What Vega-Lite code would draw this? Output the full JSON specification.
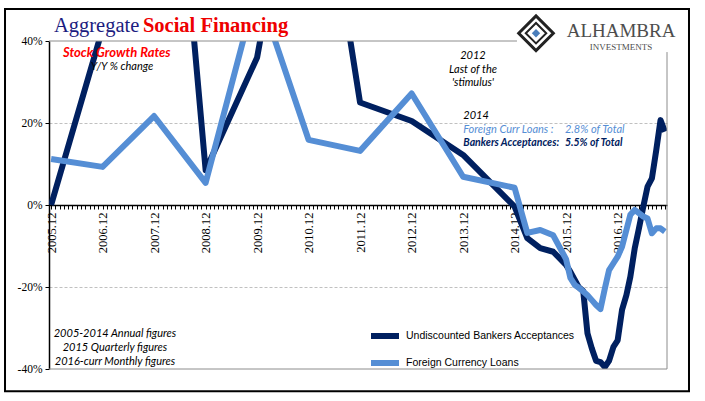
{
  "$schema": "https://vega.github.io/schema/vega-lite/v6.json",
  "width": 618,
  "height": 328,
  "autosize": {"type": "none"},
  "padding": {"left": 49, "top": 41, "right": 38, "bottom": 32},
  "background": "white",
  "config": {"view": {"stroke": null}},
  "layer": [
    {
      "data": {"values": [
        {"date": "2005-12-01", "acceptances": 0, "fxloans": 11.2},
        {"date": "2006-12-01", "acceptances": 43, "fxloans": 9.3},
        {"date": "2007-12-01", "acceptances": 150, "fxloans": 21.7},
        {"date": "2008-12-01", "acceptances": 8.5, "fxloans": 5.4},
        {"date": "2009-12-01", "acceptances": 36, "fxloans": 53},
        {"date": "2010-12-01", "acceptances": 105, "fxloans": 15.9},
        {"date": "2011-12-01", "acceptances": 25, "fxloans": 13.2},
        {"date": "2012-12-01", "acceptances": 20.5, "fxloans": 27.2},
        {"date": "2013-12-01", "acceptances": 12.2, "fxloans": 6.9},
        {"date": "2014-12-01", "acceptances": -0.4, "fxloans": 4.2},
        {"date": "2015-03-01", "acceptances": -8.1, "fxloans": -6.8},
        {"date": "2015-06-01", "acceptances": -10.5, "fxloans": -6.1},
        {"date": "2015-09-01", "acceptances": -11.4, "fxloans": -7.4},
        {"date": "2015-12-01", "acceptances": -14.6, "fxloans": -13.2},
        {"date": "2016-01-01", "acceptances": -16.3, "fxloans": -17.8},
        {"date": "2016-02-01", "acceptances": -18.3, "fxloans": -19.5},
        {"date": "2016-03-01", "acceptances": -20.1, "fxloans": -20.2},
        {"date": "2016-04-01", "acceptances": -21, "fxloans": -21.1},
        {"date": "2016-05-01", "acceptances": -31.3, "fxloans": -22},
        {"date": "2016-06-01", "acceptances": -35, "fxloans": -23.2},
        {"date": "2016-07-01", "acceptances": -38, "fxloans": -24.4},
        {"date": "2016-08-01", "acceptances": -38.3, "fxloans": -25.4},
        {"date": "2016-09-01", "acceptances": -39.5, "fxloans": -20.4},
        {"date": "2016-10-01", "acceptances": -38, "fxloans": -15.9},
        {"date": "2016-11-01", "acceptances": -34.6, "fxloans": -14.2},
        {"date": "2016-12-01", "acceptances": -33, "fxloans": -12.6},
        {"date": "2017-01-01", "acceptances": -25.6, "fxloans": -10.2},
        {"date": "2017-02-01", "acceptances": -22, "fxloans": -6.1},
        {"date": "2017-03-01", "acceptances": -17.5, "fxloans": -2.4},
        {"date": "2017-04-01", "acceptances": -10.6, "fxloans": -1.2},
        {"date": "2017-05-01", "acceptances": -5.7, "fxloans": -2},
        {"date": "2017-06-01", "acceptances": -0.4, "fxloans": -2.8},
        {"date": "2017-07-01", "acceptances": 4.5, "fxloans": -3.3},
        {"date": "2017-08-01", "acceptances": 6.5, "fxloans": -6.9},
        {"date": "2017-09-01", "acceptances": 13.4, "fxloans": -5.7},
        {"date": "2017-10-01", "acceptances": 20.7, "fxloans": -5.7},
        {"date": "2017-11-01", "acceptances": 17.9, "fxloans": -6.5}
      ]},
      "transform": [{"fold": ["acceptances", "fxloans"], "as": ["series", "value"]}],
      "mark": {"type": "line", "strokeWidth": 6, "clip": true, "strokeJoin": "round"},
      "encoding": {
        "x": {
          "field": "date", "type": "temporal",
          "scale": {"type": "utc", "domain": [
            {"year": 2005, "month": 11, "date": 16, "utc": true},
            {"year": 2017, "month": 11, "date": 16, "utc": true}
          ]},
          "axis": {
            "title": null, "orient": "bottom", "offset": -164, "grid": false,
            "tickCount": {"interval": "month", "step": 1},
            "labelExpr": "utcFormat(datum.value, '%m') == '12' ? utcFormat(datum.value, '%Y.%m') : ''",
            "labelAngle": 270, "labelOverlap": false, "labelBound": false, "labelFlush": false,
            "labelFont": "Liberation Serif", "labelFontSize": 12.5, "labelColor": "black", "labelPadding": 3,
            "tickSize": 4, "tickColor": "black", "tickWidth": 1,
            "domainColor": "black", "domainWidth": 1.5
          }
        },
        "y": {
          "field": "value", "type": "quantitative",
          "scale": {"domain": [-40, 40], "nice": false, "zero": false},
          "axis": {
            "title": null, "values": [-40, -20, 0, 20, 40],
            "labelExpr": "datum.value + '%'",
            "labelFont": "Liberation Serif", "labelFontSize": 11.5, "labelColor": "black", "labelPadding": 3,
            "tickSize": 4, "tickColor": "black", "domainColor": "black", "domainWidth": 1.5,
            "grid": true, "gridColor": "#c0c0c0", "gridDash": [3, 2],
            "gridOpacity": {"condition": {"test": "abs(datum.value) == 40 || datum.value == 0", "value": 0}, "value": 1}
          }
        },
        "color": {
          "field": "series", "type": "nominal",
          "scale": {"domain": ["acceptances", "fxloans"], "range": ["#002060", "#558ED5"]},
          "legend": {
            "orient": "none", "legendX": 323, "legendY": 282, "title": null,
            "symbolType": "M-1.4,0H1.4", "symbolSize": 400, "symbolStrokeWidth": 6,
            "labelFont": "Liberation Sans", "labelFontSize": 10.5, "labelColor": "black",
            "labelOffset": 8, "rowPadding": 2, "padding": 0, "labelLimit": 300,
            "labelExpr": "datum.value == 'acceptances' ? 'Undiscounted Bankers Acceptances' : 'Foreign Currency Loans'"
          }
        }
      }
    },
    {
      "data": {"values": [{}]},
      "layer": [
        {
          "mark": {"type": "rect", "fillOpacity": 0, "stroke": "black", "strokeWidth": 2},
          "encoding": {
            "x": {"datum": {"year": 2005, "month": 1, "date": 8, "utc": true}, "type": "temporal"},
            "x2": {"datum": {"year": 2018, "month": 4, "date": 21, "utc": true}},
            "y": {"datum": 47.8, "type": "quantitative"},
            "y2": {"datum": -45.4}
          }
        },
        {
          "mark": {"type": "rule", "color": "#8c8c8c", "strokeWidth": 1},
          "encoding": {
            "x": {"datum": {"year": 2005, "month": 11, "date": 16, "utc": true}, "type": "temporal"},
            "x2": {"datum": {"year": 2014, "month": 12, "date": 18, "utc": true}},
            "y": {"datum": 40, "type": "quantitative"}
          }
        },
        {
          "mark": {"type": "rule", "color": "#8c8c8c", "strokeWidth": 1},
          "encoding": {
            "x": {"datum": {"year": 2005, "month": 11, "date": 16, "utc": true}, "type": "temporal"},
            "x2": {"datum": {"year": 2017, "month": 11, "date": 16, "utc": true}},
            "y": {"datum": -40, "type": "quantitative"}
          }
        },
        {
          "mark": {"type": "rule", "color": "#8c8c8c", "strokeWidth": 1},
          "encoding": {
            "x": {"datum": {"year": 2017, "month": 11, "date": 16, "utc": true}, "type": "temporal"},
            "y": {"datum": 37.3, "type": "quantitative"},
            "y2": {"datum": -40}
          }
        },
        {
          "mark": {"type": "text", "text": "Aggregate", "font": "Liberation Serif", "fontSize": 20.5, "fill": "#1c1c80", "align": "left", "baseline": "alphabetic"},
          "encoding": {
            "x": {"datum": {"year": 2005, "month": 12, "date": 21, "utc": true}, "type": "temporal"},
            "y": {"datum": 42.3, "type": "quantitative"}
          }
        },
        {
          "mark": {"type": "text", "text": "Social Financing", "font": "Liberation Serif", "fontSize": 20.5, "fontWeight": "bold", "fill": "#ee0000", "align": "left", "baseline": "alphabetic"},
          "encoding": {
            "x": {"datum": {"year": 2007, "month": 9, "date": 13, "utc": true}, "type": "temporal"},
            "y": {"datum": 42.3, "type": "quantitative"}
          }
        },
        {
          "mark": {"type": "text", "text": "Stock Growth Rates", "font": "Lato", "fontSize": 13, "fontWeight": "bold", "fontStyle": "italic", "fill": "#ff0000", "align": "left", "baseline": "alphabetic"},
          "encoding": {
            "x": {"datum": {"year": 2006, "month": 2, "date": 23, "utc": true}, "type": "temporal"},
            "y": {"datum": 36.2, "type": "quantitative"}
          }
        },
        {
          "mark": {"type": "text", "text": "Y/Y % change", "font": "Lato", "fontSize": 11, "fontStyle": "italic", "fill": "black", "align": "left", "baseline": "alphabetic"},
          "encoding": {
            "x": {"datum": {"year": 2006, "month": 9, "date": 8, "utc": true}, "type": "temporal"},
            "y": {"datum": 32.9, "type": "quantitative"}
          }
        },
        {
          "mark": {"type": "text", "text": "2012", "font": "Lato", "fontSize": 11, "fontStyle": "italic", "fill": "black", "align": "center", "baseline": "alphabetic"},
          "encoding": {
            "x": {"datum": {"year": 2014, "month": 2, "date": 9, "utc": true}, "type": "temporal"},
            "y": {"datum": 35.5, "type": "quantitative"}
          }
        },
        {
          "mark": {"type": "text", "text": "Last of the", "font": "Lato", "fontSize": 11, "fontStyle": "italic", "fill": "black", "align": "center", "baseline": "alphabetic"},
          "encoding": {
            "x": {"datum": {"year": 2014, "month": 2, "date": 9, "utc": true}, "type": "temporal"},
            "y": {"datum": 32.3, "type": "quantitative"}
          }
        },
        {
          "mark": {"type": "text", "text": "'stimulus'", "font": "Lato", "fontSize": 11, "fontStyle": "italic", "fill": "black", "align": "center", "baseline": "alphabetic"},
          "encoding": {
            "x": {"datum": {"year": 2014, "month": 2, "date": 9, "utc": true}, "type": "temporal"},
            "y": {"datum": 29.1, "type": "quantitative"}
          }
        },
        {
          "mark": {"type": "text", "text": "2014", "font": "Lato", "fontSize": 11, "fontStyle": "italic", "fill": "black", "align": "left", "baseline": "alphabetic"},
          "encoding": {
            "x": {"datum": {"year": 2013, "month": 12, "date": 2, "utc": true}, "type": "temporal"},
            "y": {"datum": 20.9, "type": "quantitative"}
          }
        },
        {
          "mark": {"type": "text", "text": "Foreign Curr Loans :", "font": "Lato", "fontSize": 11, "fontStyle": "italic", "fill": "#558ED5", "align": "left", "baseline": "alphabetic"},
          "encoding": {
            "x": {"datum": {"year": 2013, "month": 12, "date": 2, "utc": true}, "type": "temporal"},
            "y": {"datum": 17.6, "type": "quantitative"}
          }
        },
        {
          "mark": {"type": "text", "text": "2.8% of Total", "font": "Lato", "fontSize": 11, "fontStyle": "italic", "fill": "#558ED5", "align": "left", "baseline": "alphabetic"},
          "encoding": {
            "x": {"datum": {"year": 2015, "month": 11, "date": 23, "utc": true}, "type": "temporal"},
            "y": {"datum": 17.6, "type": "quantitative"}
          }
        },
        {
          "mark": {"type": "text", "text": "Bankers Acceptances:", "font": "Lato", "fontSize": 10.5, "fontWeight": "bold", "fontStyle": "italic", "fill": "#002060", "align": "left", "baseline": "alphabetic"},
          "encoding": {
            "x": {"datum": {"year": 2013, "month": 12, "date": 2, "utc": true}, "type": "temporal"},
            "y": {"datum": 14.5, "type": "quantitative"}
          }
        },
        {
          "mark": {"type": "text", "text": "5.5% of Total", "font": "Lato", "fontSize": 10.5, "fontWeight": "bold", "fontStyle": "italic", "fill": "#002060", "align": "left", "baseline": "alphabetic"},
          "encoding": {
            "x": {"datum": {"year": 2015, "month": 11, "date": 23, "utc": true}, "type": "temporal"},
            "y": {"datum": 14.5, "type": "quantitative"}
          }
        },
        {
          "mark": {"type": "text", "text": "2005-2014 Annual figures", "font": "Lato", "fontSize": 11, "fontStyle": "italic", "fill": "black", "align": "center", "baseline": "alphabetic"},
          "encoding": {
            "x": {"datum": {"year": 2007, "month": 2, "date": 27, "utc": true}, "type": "temporal"},
            "y": {"datum": -32.2, "type": "quantitative"}
          }
        },
        {
          "mark": {"type": "text", "text": "2015 Quarterly figures", "font": "Lato", "fontSize": 11, "fontStyle": "italic", "fill": "black", "align": "center", "baseline": "alphabetic"},
          "encoding": {
            "x": {"datum": {"year": 2007, "month": 2, "date": 27, "utc": true}, "type": "temporal"},
            "y": {"datum": -35.6, "type": "quantitative"}
          }
        },
        {
          "mark": {"type": "text", "text": "2016-curr Monthly figures", "font": "Lato", "fontSize": 11, "fontStyle": "italic", "fill": "black", "align": "center", "baseline": "alphabetic"},
          "encoding": {
            "x": {"datum": {"year": 2007, "month": 2, "date": 27, "utc": true}, "type": "temporal"},
            "y": {"datum": -39.0, "type": "quantitative"}
          }
        },
        {
          "mark": {"type": "text", "text": "ALHAMBRA", "font": "Liberation Serif", "fontSize": 19, "fill": "#4d4d4d", "align": "center", "baseline": "alphabetic"},
          "encoding": {
            "x": {"datum": {"year": 2016, "month": 12, "date": 25, "utc": true}, "type": "temporal"},
            "y": {"datum": 40.9, "type": "quantitative"}
          }
        },
        {
          "mark": {"type": "text", "text": "INVESTMENTS", "font": "Liberation Serif", "fontSize": 9, "fill": "#4d4d4d", "align": "center", "baseline": "alphabetic"},
          "encoding": {
            "x": {"datum": {"year": 2016, "month": 12, "date": 25, "utc": true}, "type": "temporal"},
            "y": {"datum": 37.8, "type": "quantitative"}
          }
        },
        {
          "mark": {"type": "point", "shape": "diamond", "size": 1200, "filled": false, "stroke": "#222222", "strokeWidth": 3, "opacity": 1},
          "encoding": {
            "x": {"datum": {"year": 2015, "month": 5, "date": 2, "utc": true}, "type": "temporal"},
            "y": {"datum": 41.9, "type": "quantitative"}
          }
        },
        {
          "mark": {"type": "point", "shape": "diamond", "size": 420, "filled": false, "stroke": "#222222", "strokeWidth": 2, "opacity": 1},
          "encoding": {
            "x": {"datum": {"year": 2015, "month": 5, "date": 2, "utc": true}, "type": "temporal"},
            "y": {"datum": 41.9, "type": "quantitative"}
          }
        },
        {
          "mark": {"type": "point", "shape": "diamond", "size": 70, "filled": true, "fill": "#4a7ebb", "opacity": 1},
          "encoding": {
            "x": {"datum": {"year": 2015, "month": 5, "date": 2, "utc": true}, "type": "temporal"},
            "y": {"datum": 41.9, "type": "quantitative"}
          }
        }
      ]
    }
  ]
}
